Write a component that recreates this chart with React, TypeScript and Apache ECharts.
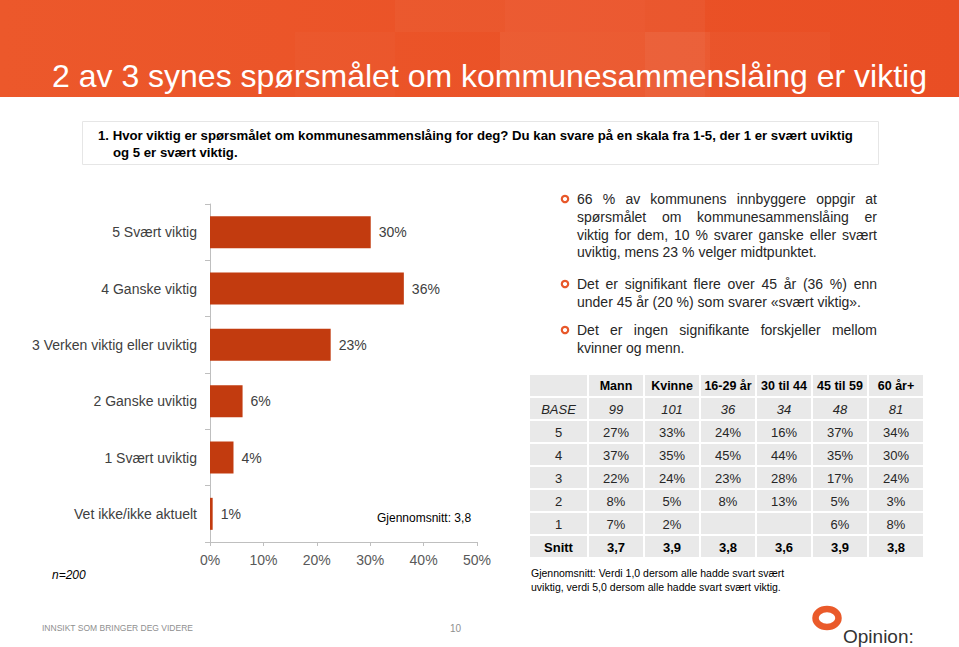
import React, { useEffect, useRef } from "react";
import * as echarts from "echarts";

// ---------- data ----------
const titleText = "2 av 3 synes spørsmålet om kommunesammenslåing er viktig";
const questionLines = [
  "1. Hvor viktig er spørsmålet om kommunesammenslåing for deg? Du kan svare på en skala fra 1-5, der 1 er svært uviktig",
  "og 5 er svært viktig.",
];
const categories = [
  "5 Svært viktig",
  "4 Ganske viktig",
  "3 Verken viktig eller uviktig",
  "2 Ganske uviktig",
  "1 Svært uviktig",
  "Vet ikke/ikke aktuelt",
];
const shares = [30.1, 36.3, 22.6, 6.1, 4.4, 0.5];
const xMin = 0;
const xMax = 50;
const xStep = 10;
const averageNote = "Gjennomsnitt: 3,8";
const sampleNote = "n=200";

const bulletParagraphs = [
  [
    "66 % av kommunens innbyggere oppgir at",
    "spørsmålet om kommunesammenslåing er",
    "viktig for dem, 10 % svarer ganske eller svært",
    "uviktig, mens 23 % velger midtpunktet.",
  ],
  [
    "Det er signifikant flere over 45 år (36 %) enn",
    "under 45 år (20 %) som svarer «svært viktig».",
  ],
  ["Det er ingen signifikante forskjeller mellom", "kvinner og menn."],
];

const tableCols = ["Mann", "Kvinne", "16-29 år", "30 til 44", "45 til 59", "60 år+"];
const tableBase = [99, 101, 36, 34, 48, 81];
const rowLabels = ["5", "4", "3", "2", "1"];
const row5 = [27, 33, 24, 16, 37, 34];
const row4 = [37, 35, 45, 44, 35, 30];
const row3 = [22, 24, 23, 28, 17, 24];
const row2 = [8, 5, 8, 13, 5, 3];
const row1 = [7, 2, null, null, 6, 8];
const snitt = [3.7, 3.9, 3.8, 3.6, 3.9, 3.8];
const tableNote = [
  "Gjennomsnitt: Verdi 1,0 dersom alle hadde svart svært",
  "uviktig, verdi 5,0 dersom alle hadde svart svært viktig.",
];
const footerText = "INNSIKT SOM BRINGER DEG VIDERE";
const pageNumber = "10";
const logoText = "Opinion:";

// ---------- helpers ----------
const FONT = '"Liberation Sans", Arial, sans-serif';

function txt(text: string, x: number, y: number, o: any = {}) {
  return {
    type: "text",
    x,
    y,
    silent: true,
    style: {
      text,
      fill: o.fill || "#262626",
      fontSize: o.size || 14,
      fontFamily: o.family || FONT,
      fontWeight: o.weight || "normal",
      fontStyle: o.style || "normal",
      align: o.align || "left",
      verticalAlign: o.va || "middle",
    },
  };
}

export default function App() {
  const ref = useRef<HTMLDivElement>(null);

  useEffect(() => {
    const chart = echarts.init(ref.current!, null, { renderer: "svg" });

    const canvas = document.createElement("canvas");
    const ctx = canvas.getContext("2d")!;
    ctx.font = '14px "Liberation Sans"';

    const els: any[] = [];

    // header band
    els.push({
      type: "rect",
      silent: true,
      shape: { x: 0, y: 0, width: 959, height: 97 },
      style: {
        fill: new echarts.graphic.LinearGradient(0, 0, 1, 0, [
          { offset: 0, color: "#ec582b" },
          { offset: 1, color: "#e94e24" },
        ]),
      },
    });
    const patches = [
      [395, 0, 110, 32, 0.03],
      [505, 0, 140, 32, 0.05],
      [500, 32, 210, 65, 0.06],
      [645, 0, 60, 97, 0.04],
      [710, 32, 120, 65, 0.025],
      [295, 32, 100, 65, 0.02],
    ];
    patches.forEach(([x, y, w, h, a]) =>
      els.push({
        type: "rect",
        silent: true,
        shape: { x, y, width: w, height: h },
        style: { fill: `rgba(255,255,255,${a})` },
      })
    );
    els.push(txt(titleText, 52, 76, { size: 32, fill: "#ffffff" }));

    // question box
    els.push({
      type: "rect",
      silent: true,
      shape: { x: 82.5, y: 121.5, width: 796, height: 43 },
      style: { fill: "#ffffff", stroke: "#e6e6e6", lineWidth: 1 },
    });
    els.push(txt(questionLines[0], 98, 135, { size: 13.2, weight: "bold", fill: "#000" }));
    els.push(txt(questionLines[1], 113, 152, { size: 13.2, weight: "bold", fill: "#000" }));

    // bullets (justified)
    const bx = 577;
    const bw = 300;
    const lh = 17.8;
    const starts = [199, 284, 330];
    bulletParagraphs.forEach((lines, pi) => {
      const y0 = starts[pi];
      els.push({
        type: "circle",
        silent: true,
        shape: { cx: 565, cy: y0, r: 3.2 },
        style: { fill: "#fff", stroke: "#e8582a", lineWidth: 2.2 },
      });
      lines.forEach((line, li) => {
        const y = y0 + li * lh;
        const last = li === lines.length - 1;
        if (last) {
          els.push(txt(line, bx, y, { size: 14, fill: "#262626" }));
        } else {
          const words = line.split(" ");
          const widths = words.map((w) => ctx.measureText(w).width);
          const total = widths.reduce((a, b) => a + b, 0);
          const gap = (bw - total) / (words.length - 1);
          let cx = bx;
          words.forEach((w, wi) => {
            els.push(txt(w, cx, y, { size: 14, fill: "#262626" }));
            cx += widths[wi] + gap;
          });
        }
      });
    });

    // table
    const tx0 = 529;
    const firstW = 59;
    const colW = 56;
    const ty0 = 374;
    const rh = 23;
    const tableRows: { label: string; vals: (string | null)[]; kind: string }[] = [
      { label: "", vals: tableCols, kind: "head" },
      { label: "BASE", vals: tableBase.map(String), kind: "base" },
      ...[row5, row4, row3, row2, row1].map((r, i) => ({
        label: rowLabels[i],
        vals: r.map((v) => (v == null ? null : v + "%")),
        kind: "val",
      })),
      { label: "Snitt", vals: snitt.map((v) => v.toFixed(1).replace(".", ",")), kind: "snitt" },
    ];
    tableRows.forEach((row, ri) => {
      const y = ty0 + ri * rh;
      const cells = [row.label, ...row.vals];
      cells.forEach((c, ci) => {
        const x = ci === 0 ? tx0 : tx0 + firstW + (ci - 1) * colW;
        const w = ci === 0 ? firstW : colW;
        els.push({
          type: "rect",
          silent: true,
          shape: { x: x + 1, y: y + 1, width: w - 2, height: rh - 2 },
          style: { fill: "#e9e9e9" },
        });
        if (c != null && c !== "") {
          const o: any = { size: 13, fill: "#262626", align: "center" };
          if (row.kind === "head") {
            o.weight = "bold";
            o.fill = "#000";
            o.size = 12.5;
          }
          if (row.kind === "base") o.style = "italic";
          if (row.kind === "snitt") {
            o.weight = "bold";
            o.fill = "#000";
          }
          els.push(txt(String(c), x + w / 2, y + rh / 2 + 0.5, o));
        }
      });
    });
    els.push(txt(tableNote[0], 531, 573, { size: 10.5, fill: "#000" }));
    els.push(txt(tableNote[1], 531, 587, { size: 10.5, fill: "#000" }));

    // chart notes
    els.push(txt(averageNote, 377, 518, { size: 12, fill: "#000" }));
    els.push(txt(sampleNote, 52, 575, { size: 12, style: "italic", fill: "#000" }));

    // footer
    els.push(txt(footerText, 42, 628, { size: 8.5, fill: "#8f8f8f" }));
    els.push(txt(pageNumber, 450, 628, { size: 10, fill: "#8f8f8f" }));
    els.push({
      type: "ellipse",
      silent: true,
      shape: { cx: 827, cy: 618, rx: 11.5, ry: 9 },
      style: { fill: "none", stroke: "#ea5a2a", lineWidth: 6.5 },
    });
    els.push(txt(logoText, 843, 636, { size: 19, fill: "#333" }));

    const option: any = {
      animation: false,
      backgroundColor: "#ffffff",
      grid: { left: 210, top: 204, width: 267, height: 338, containLabel: false },
      xAxis: {
        type: "value",
        min: xMin,
        max: xMax,
        interval: xStep,
        axisLine: { show: true, lineStyle: { color: "#bfbfbf", width: 1 } },
        axisTick: { show: true, length: 4, lineStyle: { color: "#bfbfbf" } },
        splitLine: { show: false },
        axisLabel: {
          formatter: "{value}%",
          fontSize: 14,
          fontFamily: FONT,
          color: "#595959",
          margin: 11,
        },
      },
      yAxis: {
        type: "category",
        inverse: true,
        data: categories,
        axisLine: { show: true, lineStyle: { color: "#bfbfbf", width: 1 } },
        axisTick: { show: true, length: 5, lineStyle: { color: "#bfbfbf" } },
        axisLabel: { fontSize: 14, fontFamily: FONT, color: "#404040", margin: 13 },
      },
      series: [
        {
          type: "bar",
          data: shares,
          barWidth: 32,
          itemStyle: { color: "#c23b0f" },
          label: {
            show: true,
            position: "right",
            distance: 8,
            fontSize: 14,
            fontFamily: FONT,
            color: "#404040",
            formatter: (p: any) => Math.round(p.value) + "%",
          },
        },
      ],
      graphic: { elements: els },
    };

    chart.setOption(option);
    return () => chart.dispose();
  }, []);

  return (
    <div
      ref={ref}
      style={{ position: "fixed", left: 0, top: 0, width: 959, height: 647, background: "#fff" }}
    />
  );
}
